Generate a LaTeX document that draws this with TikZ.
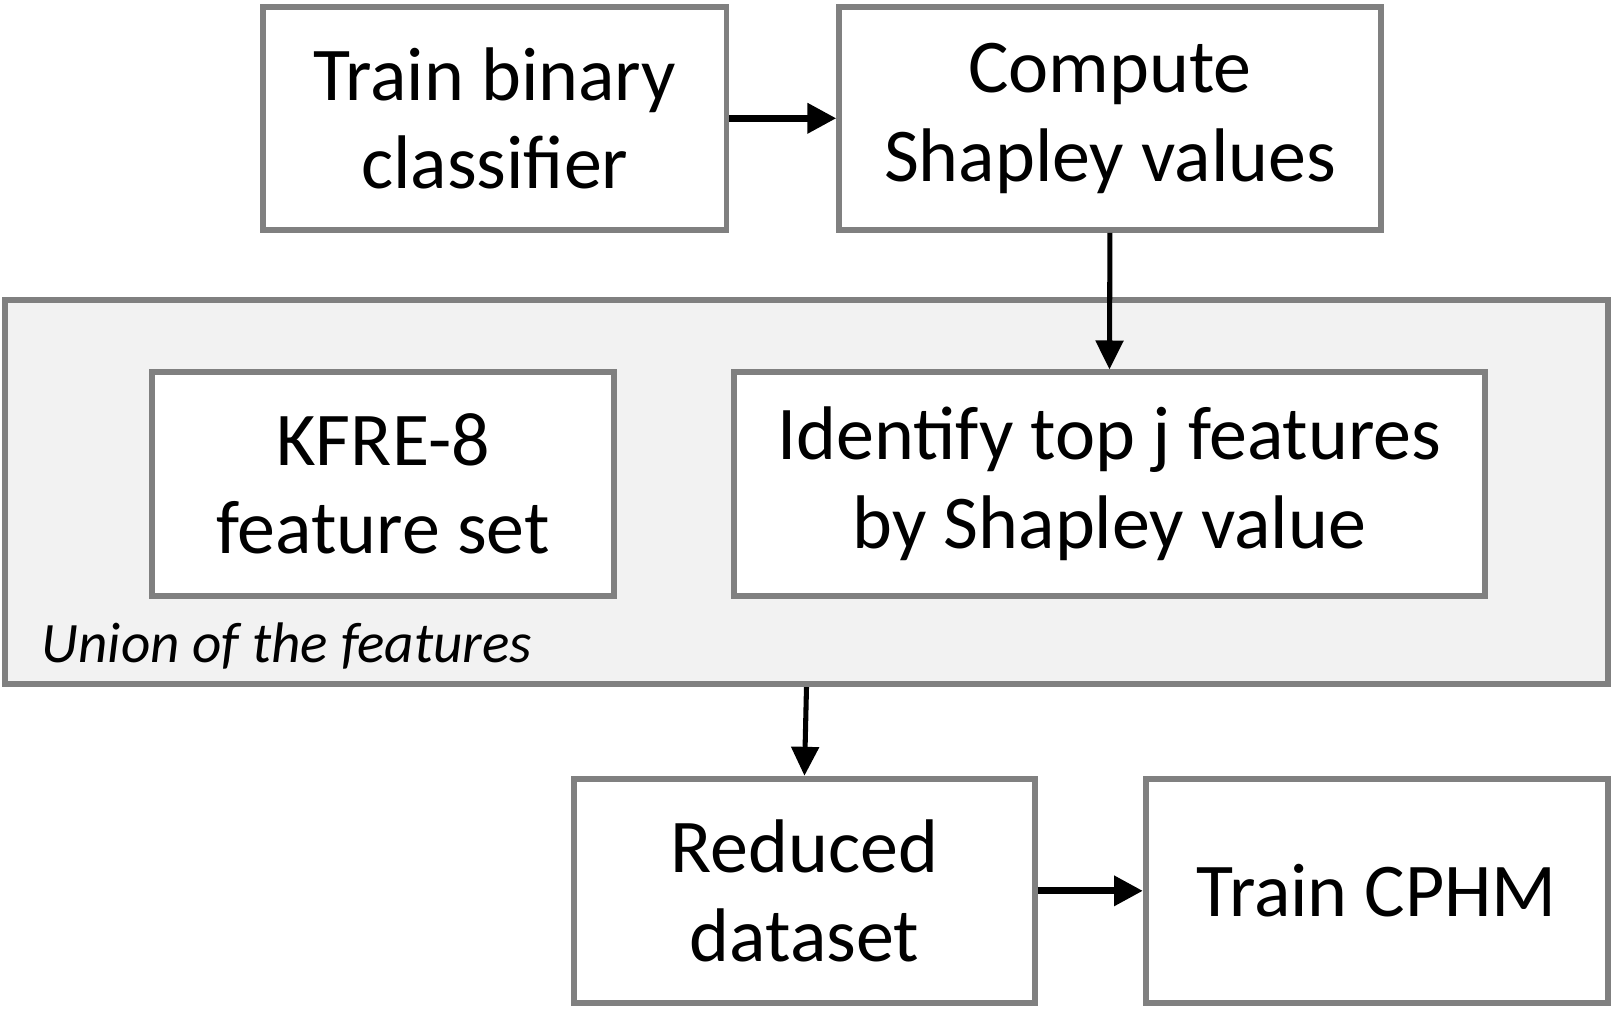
\documentclass[tikz,border=0pt]{standalone}
\usepackage{fontspec}
\setmainfont{Carlito}
\usetikzlibrary{arrows.meta}
\definecolor{bordergray}{HTML}{808080}
\definecolor{groupfill}{HTML}{F2F2F2}
\tikzset{
  stepbox/.style={draw=bordergray, line width=1.6pt, fill=white, inner sep=0pt,
    align=center, font=\fontsize{21}{24.5}\selectfont},
  groupbox/.style={draw=bordergray, line width=1.6pt, fill=groupfill, inner sep=0pt},
  flow/.style={draw=black, line width=1.9pt, -{Triangle[length=8pt,width=8pt]}},
  vflow/.style={draw=black, line width=1.4pt, -{Triangle[length=8pt,width=7.5pt]}},
}
\begin{document}
\begin{tikzpicture}[x=0.01cm,y=-0.01cm]
\useasboundingbox (0,0) rectangle (1568,997);
\node[groupbox, minimum width=15.58cm, minimum height=3.73cm] (grp) at (784,478.5) {};
\node[anchor=west, inner sep=0pt, font=\fontsize{15.8}{18}\selectfont\itshape] (union) at (40,628) {Union of the features};
\node[stepbox, minimum width=4.50cm, minimum height=2.17cm] (A) at (481,115) {Train binary\\classifier};
\node[stepbox, minimum width=5.26cm, minimum height=2.17cm] (B) at (1079,115) {Compute\\Shapley values};
\node[stepbox, minimum width=4.49cm, minimum height=2.17cm] (C) at (372.5,470.5) {KFRE-8\\feature set};
\node[stepbox, minimum width=7.29cm, minimum height=2.17cm] (D) at (1078.5,470.5) {Identify top j features\\by Shapley value};
\node[stepbox, minimum width=4.48cm, minimum height=2.18cm] (E) at (782,866) {Reduced\\dataset};
\node[stepbox, minimum width=4.49cm, minimum height=2.18cm] (F) at (1338.5,866) {Train CPHM};
\draw[flow] (A.east) -- (B.west);
\draw[vflow] (B.south) -- (D.north);
\draw[vflow] (grp.south) -- (E.north);
\draw[flow] (E.east) -- (F.west);
\end{tikzpicture}
\end{document}
